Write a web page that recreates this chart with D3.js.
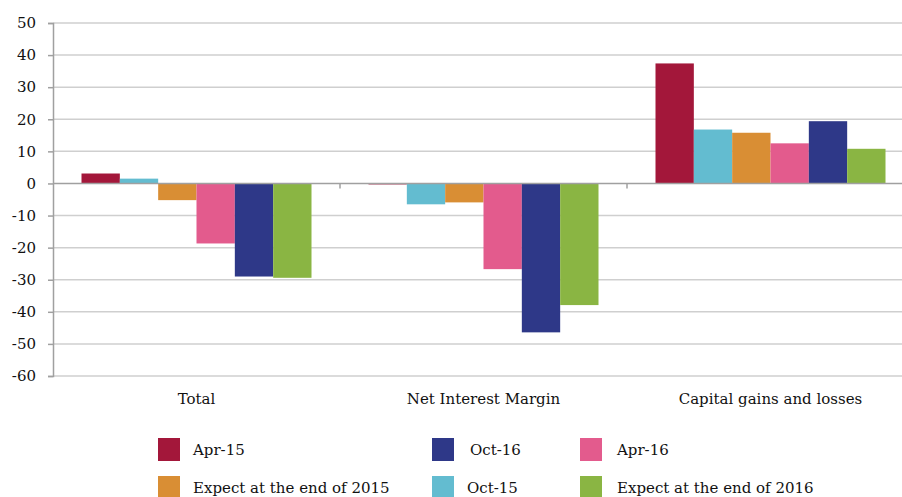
<!DOCTYPE html>
<html>
<head>
<meta charset="utf-8">
<script src="https://cdn.jsdelivr.net/npm/d3@7"></script>
<style>
  body { margin: 0; background: #fff; overflow: hidden; }
  svg { display: block; }
  text { font-family: "DejaVu Serif", serif; fill: #111; }
</style>
</head>
<body>
<div id="container"></div>
<script>
const categories = ['Total', 'Net Interest Margin', 'Capital gains and losses'];
const seriesNames = ['Apr-15', 'Oct-15', 'Expect at the end of 2015', 'Apr-16', 'Oct-16', 'Expect at the end of 2016'];
const seriesColors = ['#a3173a', '#63bcd0', '#d98e34', '#e35b8d', '#2e3888', '#8ab543'];
const values = [
    [3.1, 1.5, -5.2, -18.7, -29.0, -29.4],
    [-0.3, -6.5, -5.9, -26.7, -46.4, -37.9],
    [37.4, 16.8, 15.8, 12.5, 19.4, 10.8]
];
const yTicks = [50, 40, 30, 20, 10, 0, -10, -20, -30, -40, -50, -60];
// legend is laid out in rows of three, in this order
const legendOrder = [0, 4, 3, 2, 1, 5];

const W = 902, H = 497;
const plot = { left: 53, right: 914, top: 23, bottom: 376 };
const fontSize = 15;

const svg = d3.select('#container')
    .append('svg')
    .attr('width', W)
    .attr('height', H);

const x0 = d3.scaleBand()
    .domain(categories)
    .range([plot.left, plot.right])
    .paddingInner(0)
    .paddingOuter(0);

const x1 = d3.scaleBand()
    .domain(d3.range(seriesNames.length))
    .range([28.5, x0.bandwidth() - 28.5]);

const y = d3.scaleLinear()
    .domain([-60, 50])
    .range([plot.bottom, plot.top]);

// gridlines
svg.append('g')
    .selectAll('line')
    .data(yTicks.filter(d => d !== 0))
    .enter()
    .append('line')
    .attr('x1', plot.left)
    .attr('x2', W)
    .attr('y1', d => y(d))
    .attr('y2', d => y(d))
    .attr('stroke', '#cfcfcf')
    .attr('stroke-width', 1.5);

// bars
const groups = svg.append('g')
    .selectAll('g')
    .data(categories)
    .enter()
    .append('g')
    .attr('transform', d => `translate(${x0(d)},0)`);

groups.selectAll('rect')
    .data((d, i) => values[i].map((v, j) => ({ v, j })))
    .enter()
    .append('rect')
    .attr('x', d => x1(d.j))
    .attr('width', x1.bandwidth())
    .attr('y', d => y(Math.max(0, d.v)))
    .attr('height', d => Math.abs(y(d.v) - y(0)))
    .attr('fill', d => seriesColors[d.j]);

// zero line with category ticks
svg.append('line')
    .attr('x1', plot.left)
    .attr('x2', W)
    .attr('y1', y(0))
    .attr('y2', y(0))
    .attr('stroke', '#a0a0a0')
    .attr('stroke-width', 1.5);

svg.append('g')
    .selectAll('line')
    .data(categories.slice(1))
    .enter()
    .append('line')
    .attr('x1', d => x0(d))
    .attr('x2', d => x0(d))
    .attr('y1', y(0))
    .attr('y2', y(0) + 5)
    .attr('stroke', '#a0a0a0')
    .attr('stroke-width', 1.5);

// y axis
const yAxis = svg.append('g')
    .attr('transform', `translate(${plot.left},0)`)
    .call(d3.axisLeft(y).tickValues(yTicks).tickSize(5).tickPadding(12).tickFormat(d => String(d)));

yAxis.select('.domain').attr('stroke', '#a0a0a0').attr('stroke-width', 1.5);
yAxis.selectAll('.tick line').attr('stroke', '#a0a0a0').attr('stroke-width', 1.5);
yAxis.selectAll('.tick text')
    .attr('font-family', '"DejaVu Serif", serif')
    .attr('font-size', fontSize)
    .attr('fill', '#111');

// category labels
svg.append('g')
    .selectAll('text')
    .data(categories)
    .enter()
    .append('text')
    .attr('x', d => x0(d) + x0.bandwidth() / 2)
    .attr('y', 404)
    .attr('text-anchor', 'middle')
    .attr('font-size', fontSize)
    .text(d => d);

// legend
const legendCols = [158, 432, 580];
const legendTextX = [193, 470, 617];
const legendRows = [438, 476];

const legend = svg.append('g')
    .selectAll('g')
    .data(legendOrder)
    .enter()
    .append('g')
    .attr('transform', (d, i) => `translate(${legendCols[i % 3]},${legendRows[Math.floor(i / 3)]})`);

legend.append('rect')
    .attr('width', 22)
    .attr('height', 23)
    .attr('fill', d => seriesColors[d]);

legend.append('text')
    .attr('x', (d, i) => legendTextX[i % 3] - legendCols[i % 3] - (d === 1 ? 3 : 0))
    .attr('y', 17)
    .attr('font-size', fontSize)
    .text(d => seriesNames[d]);
</script>
</body>
</html>
